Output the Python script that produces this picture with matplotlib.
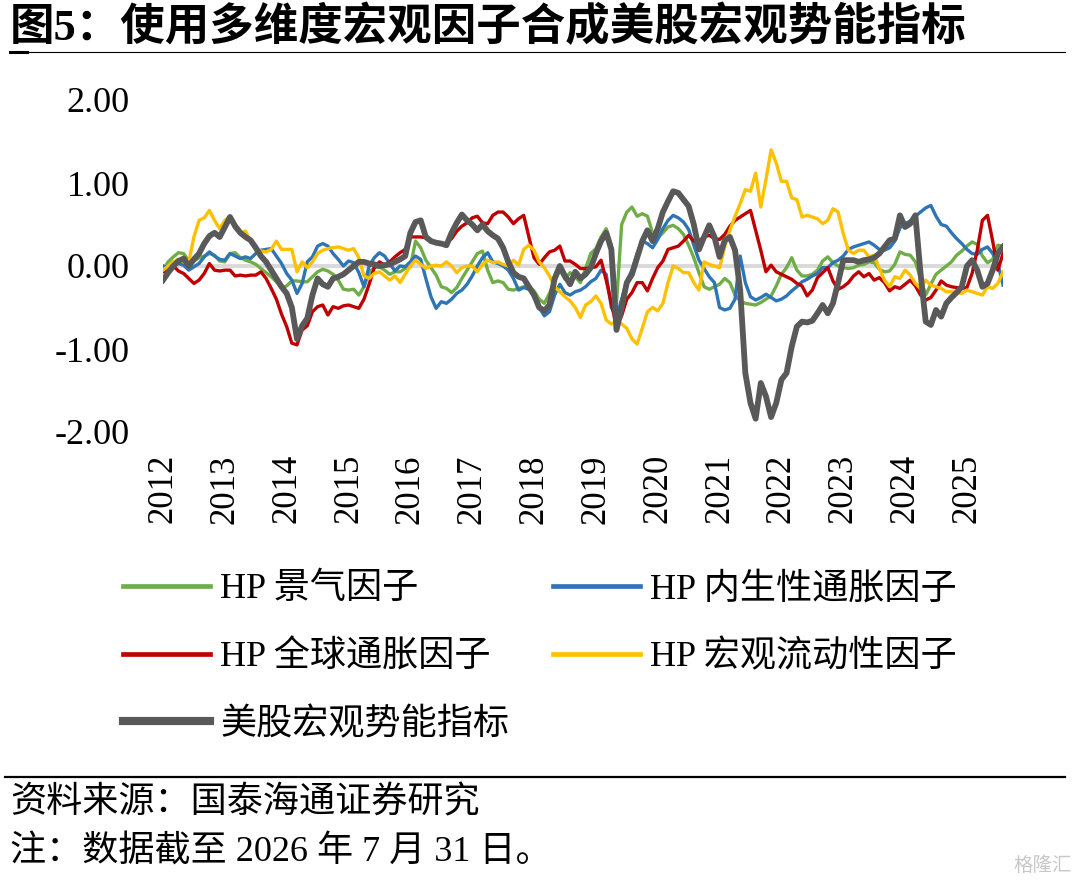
import matplotlib
matplotlib.use("Agg")
import matplotlib.pyplot as plt
from matplotlib.lines import Line2D
from matplotlib.ticker import FormatStrFormatter

# monthly points, 2012-01 .. 2025-08
years = [str(y) for y in range(2012, 2026)]
months = list(range(164))

jingqi = [
    -0.05, 0.05, 0.11, 0.16, 0.15, 0.06, 0.06, 0.10, 0.12, 0.15,
    0.13, 0.06, 0.05, 0.15, 0.16, 0.10, 0.07, 0.05, 0.02, -0.03,
    -0.08, -0.13, -0.19, -0.26, -0.24, -0.18, -0.18, -0.19, -0.19, -0.13,
    -0.07, -0.04, -0.06, -0.10, -0.17, -0.28, -0.29, -0.28, -0.35, -0.25,
    -0.08, -0.02, -0.01, -0.05, -0.10, -0.07, -0.07, -0.03, -0.01, 0.30,
    0.22, 0.07, -0.02, -0.11, -0.25, -0.27, -0.32, -0.26, -0.15, -0.05,
    0.05, 0.15, 0.18, -0.05, -0.20, -0.18, -0.20, -0.28, -0.29, -0.27,
    -0.25, -0.25, -0.30, -0.40, -0.45, -0.33, -0.18, -0.05, -0.16, -0.08,
    -0.13, -0.20, -0.03, 0.15, 0.21, 0.35, 0.45, 0.25, -0.45, 0.50,
    0.65, 0.71, 0.60, 0.63, 0.60, 0.40, 0.34, 0.40, 0.47, 0.49,
    0.45, 0.38, 0.25, 0.10, -0.08, -0.25, -0.28, -0.25, -0.22, -0.15,
    -0.20, -0.35, -0.42, -0.45, -0.46, -0.47, -0.44, -0.40, -0.36, -0.24,
    -0.10, -0.02, 0.10, -0.05, -0.12, -0.12, -0.10, -0.05, 0.06, 0.11,
    0.04, 0.00, -0.02, -0.03, -0.02, 0.01, 0.02, 0.05, 0.04, -0.04,
    -0.07, -0.06, 0.02, 0.17, 0.14, 0.13, 0.05, -0.15, -0.35, -0.22,
    -0.10, -0.05, 0.00, 0.05, 0.13, 0.18, 0.24, 0.29, 0.26, 0.12,
    0.04, 0.08, 0.25, 0.24]

neisheng = [
    0.00, -0.02, 0.05, 0.03, 0.01, -0.05, -0.01, 0.03, 0.11, 0.17,
    0.12, 0.08, 0.07, 0.15, 0.12, 0.09, 0.11, 0.09, 0.15, 0.19,
    0.20, 0.21, 0.12, 0.03, -0.09, -0.17, -0.33, -0.21, 0.05, 0.11,
    0.24, 0.27, 0.24, 0.15, 0.08, 0.00, 0.06, 0.04, -0.08, -0.25,
    0.00, 0.10, 0.16, 0.12, 0.03, -0.06, 0.00, -0.01, 0.05, 0.12,
    0.08, -0.15, -0.37, -0.51, -0.43, -0.45, -0.40, -0.33, -0.29, -0.22,
    -0.12, 0.00, 0.10, 0.16, 0.05, 0.03, 0.00, -0.05, -0.15, -0.29,
    -0.26, -0.28, -0.33, -0.50, -0.60, -0.55, -0.35, -0.22, -0.32, -0.35,
    -0.31, -0.29, -0.25, -0.19, -0.15, -0.05, -0.10, -0.50, -0.61, -0.40,
    -0.18, -0.05, 0.15, 0.30, 0.27, 0.22, 0.32, 0.45, 0.55, 0.61,
    0.58, 0.53, 0.44, 0.25, 0.07, -0.03, -0.13, -0.20, -0.50, -0.53,
    -0.51, -0.40, 0.12, -0.20, -0.37, -0.41, -0.38, -0.34, -0.38, -0.42,
    -0.40, -0.36, -0.30, -0.25, -0.19, -0.16, -0.12, -0.09, -0.02, -0.02,
    0.04, 0.07, 0.12, 0.20, 0.23, 0.25, 0.27, 0.29, 0.25, 0.20,
    0.19, 0.22, 0.30, 0.46, 0.51, 0.54, 0.60, 0.65, 0.70, 0.73,
    0.60, 0.50, 0.48, 0.40, 0.33, 0.27, 0.20, 0.15, 0.14, 0.20,
    0.23, 0.15, 0.03, -0.23]

quanqiu = [
    -0.07, -0.05, 0.00, -0.06, -0.09, -0.15, -0.21, -0.17, -0.09, 0.03,
    -0.05, -0.06, -0.05, -0.05, -0.12, -0.11, -0.12, -0.11, -0.11, -0.07,
    -0.15, -0.27, -0.40, -0.58, -0.73, -0.93, -0.95, -0.77, -0.72, -0.55,
    -0.49, -0.47, -0.59, -0.49, -0.51, -0.48, -0.47, -0.49, -0.51, -0.40,
    -0.22, -0.02, 0.05, 0.01, 0.05, 0.11, 0.16, 0.20, 0.35, 0.35,
    0.35, 0.34, 0.31, 0.28, 0.27, 0.27, 0.33, 0.42, 0.48, 0.52,
    0.58, 0.60, 0.52, 0.51, 0.61, 0.65, 0.65, 0.59, 0.51, 0.57,
    0.61, 0.35, 0.10, 0.02, 0.10, 0.17, 0.19, 0.24, 0.06, 0.06,
    0.02, -0.03, -0.03, -0.02, -0.01, 0.07, -0.17, -0.45, -0.73, -0.60,
    -0.40, -0.32, -0.20, -0.20, -0.30, -0.15, -0.02, 0.06, 0.20, 0.22,
    0.24, 0.30, 0.37, 0.30, 0.30, 0.35, 0.37, 0.33, 0.32, 0.38,
    0.48, 0.55, 0.59, 0.63, 0.67, 0.43, 0.19, -0.07, 0.01, -0.07,
    -0.10, -0.13, -0.16, -0.21, -0.24, -0.36, -0.29, -0.14, -0.08, -0.02,
    -0.18, -0.28, -0.25, -0.20, -0.12, -0.07, -0.13, -0.09, -0.17, -0.14,
    -0.20, -0.30, -0.25, -0.27, -0.22, -0.17, -0.24, -0.35, -0.41, -0.38,
    -0.29, -0.18, -0.23, -0.25, -0.26, -0.27, -0.26, -0.09, 0.19, 0.55,
    0.61, 0.30, -0.05, 0.15]

liudong = [
    -0.05, 0.00, 0.05, 0.08, 0.05, 0.05, 0.35, 0.55, 0.58, 0.67,
    0.55, 0.45, 0.55, 0.60, 0.45, 0.40, 0.42, 0.30, 0.20, 0.18,
    0.17, 0.20, 0.30, 0.20, 0.20, 0.20, -0.07, 0.05, -0.02, 0.05,
    0.15, 0.19, 0.21, 0.22, 0.23, 0.21, 0.19, 0.21, 0.10, -0.12,
    -0.15, -0.09, -0.07, -0.12, -0.17, -0.12, -0.20, -0.10, 0.00, 0.07,
    0.02, -0.03, 0.00, 0.01, 0.00, 0.05, 0.00, -0.08, -0.02, 0.00,
    0.00, -0.07, 0.02, 0.07, 0.04, 0.05, 0.02, 0.00, 0.07, 0.01,
    0.20, 0.25, 0.19, 0.05, -0.02, -0.12, -0.25, -0.31, -0.37, -0.42,
    -0.50, -0.62, -0.47, -0.43, -0.36, -0.45, -0.65, -0.70, -0.66, -0.70,
    -0.75, -0.88, -0.94, -0.75, -0.55, -0.50, -0.54, -0.45, -0.20, 0.00,
    -0.03, -0.08, -0.08, -0.20, -0.29, 0.05, 0.02, 0.00, -0.02, 0.23,
    0.43, 0.60, 0.75, 0.92, 0.90, 1.12, 0.71, 1.04, 1.40, 1.24,
    1.02, 1.02, 0.82, 0.80, 0.59, 0.61, 0.59, 0.57, 0.51, 0.55,
    0.69, 0.65, 0.39, 0.19, 0.15, 0.19, 0.19, 0.11, 0.13, -0.03,
    -0.17, -0.25, -0.13, -0.15, -0.05, -0.11, -0.21, -0.27, -0.17, -0.23,
    -0.25, -0.27, -0.31, -0.31, -0.32, -0.33, -0.29, -0.31, -0.33, -0.35,
    -0.25, -0.27, -0.21, -0.07]

shineng = [
    -0.17, -0.08, 0.00, 0.06, 0.09, 0.00, 0.08, 0.15, 0.27, 0.36,
    0.40, 0.35, 0.47, 0.59, 0.48, 0.40, 0.35, 0.31, 0.22, 0.12,
    0.05, -0.05, -0.15, -0.25, -0.33, -0.50, -0.88, -0.72, -0.63, -0.35,
    -0.15, -0.22, -0.25, -0.15, -0.13, -0.10, -0.05, 0.00, 0.05, 0.05,
    0.03, 0.02, 0.00, 0.01, 0.02, 0.05, 0.08, 0.12, 0.40, 0.53,
    0.55, 0.35, 0.30, 0.28, 0.27, 0.25, 0.40, 0.52, 0.62, 0.55,
    0.50, 0.43, 0.50, 0.42, 0.37, 0.33, 0.22, 0.05, -0.08, -0.13,
    -0.15, -0.25, -0.35, -0.50, -0.54, -0.47, -0.15, 0.00, -0.12, -0.22,
    -0.07, -0.15, -0.10, -0.02, 0.15, 0.30, 0.40, 0.20, -0.77, -0.50,
    -0.20, -0.10, 0.10, 0.30, 0.43, 0.30, 0.45, 0.65, 0.78, 0.90,
    0.88, 0.80, 0.72, 0.50, 0.20, 0.35, 0.49, 0.35, 0.11, 0.31,
    0.35, 0.19, -0.29, -1.29, -1.65, -1.84, -1.41, -1.57, -1.82, -1.65,
    -1.37, -1.29, -0.97, -0.73, -0.67, -0.68, -0.66, -0.57, -0.47, -0.57,
    -0.45, -0.20, 0.07, 0.07, 0.07, 0.05, 0.07, 0.08, 0.10, 0.15,
    0.23, 0.31, 0.33, 0.61, 0.47, 0.51, 0.61, -0.09, -0.67, -0.71,
    -0.53, -0.61, -0.45, -0.38, -0.32, -0.25, 0.00, 0.07, -0.05, -0.25,
    -0.21, -0.05, 0.15, 0.23]

plt.rcParams['font.family'] = ['Liberation Serif', 'Noto Sans CJK SC']
plt.rcParams['axes.unicode_minus'] = False

W, H = 1080, 889
fig = plt.figure(figsize=(W / 100, H / 100), dpi=100)
ax = fig.add_axes([163 / W, 1 - 432 / H, 840 / W, 332 / H])

ax.axhline(0, color='#D9D9D9', lw=2.8, zorder=1)
l_jq, = ax.plot(months, jingqi, color='#70AD47', lw=2.4, label='HP 景气因子')
l_ns, = ax.plot(months, neisheng, color='#2E75B6', lw=2.4, label='HP 内生性通胀因子')
l_qq, = ax.plot(months, quanqiu, color='#C00000', lw=2.4, label='HP 全球通胀因子')
l_ld, = ax.plot(months, liudong, color='#FFC000', lw=2.4, label='HP 宏观流动性因子')
l_sn, = ax.plot(months, shineng, color='#595959', lw=4.2, label='美股宏观势能指标')

ax.set_xlim(0, 163)
ax.set_ylim(-2, 2)
ax.set_yticks([-2, -1, 0, 1, 2])
ax.yaxis.set_major_formatter(FormatStrFormatter('%.2f'))
ax.set_xticks(range(0, 164, 12))
ax.set_xticklabels(years, rotation=90)
ax.tick_params(axis='y', length=0, labelsize=26, pad=24)
ax.tick_params(axis='x', length=0, labelsize=25, pad=16)
for s in ax.spines.values():
    s.set_visible(False)

leg_kw = dict(loc='upper left', frameon=False, fontsize=26, handlelength=2.4,
              handletextpad=0.3, labelspacing=0.93, borderpad=0, borderaxespad=0)
leg1 = fig.legend(handles=[l_jq, l_qq, l_sn], bbox_to_anchor=(123 / W, 1 - 573 / H), **leg_kw)
leg2 = fig.legend(handles=[l_ns, l_ld], bbox_to_anchor=(553 / W, 1 - 573 / H), **leg_kw)
for leg in (leg1, leg2):
    for h in leg.legend_handles:
        h.set_linewidth(h.get_linewidth() * 1.4)

# title + rules
fig.text(10 / W, 1 - 27 / H, '图5：使用多维度宏观因子合成美股宏观势能指标',
         fontsize=32, fontweight='bold', va='center', ha='left')
fig.add_artist(Line2D([10 / W, 1065 / W], [1 - 52 / H] * 2, color='black', lw=0.8))
fig.add_artist(Line2D([10 / W, 27 / W], [1 - 51.5 / H] * 2, color='black', lw=2.2))
fig.add_artist(Line2D([5 / W, 1065 / W], [1 - 777 / H] * 2, color='black', lw=1.6))

fig.text(10 / W, 1 - 803 / H, '资料来源：国泰海通证券研究', fontsize=26, va='center', ha='left')
fig.text(10 / W, 1 - 853 / H, '注：数据截至 2026 年 7 月 31 日。', fontsize=26, va='center', ha='left')
fig.text(1072 / W, 1 - 866 / H, '格隆汇', fontsize=14, color='#C8C8C8', va='center', ha='right')

fig.savefig('out.png', dpi=100)
